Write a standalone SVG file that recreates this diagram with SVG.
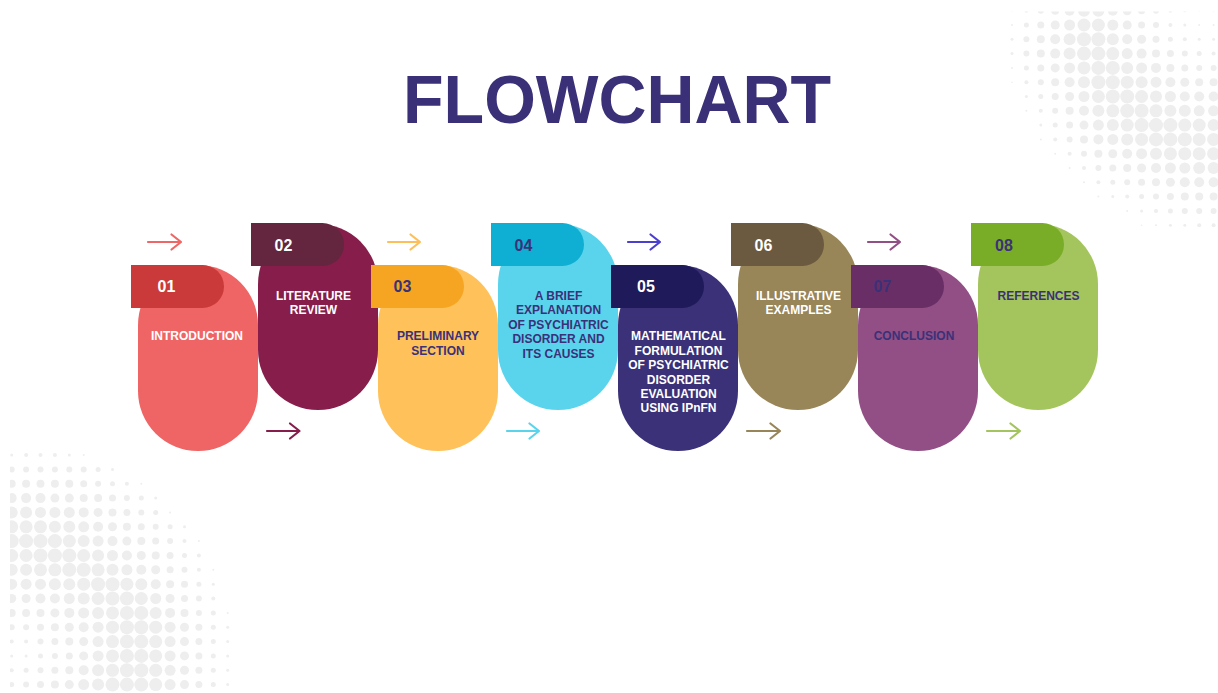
<svg xmlns="http://www.w3.org/2000/svg" width="1218" height="693" viewBox="0 0 1218 693">
  <style>
    .bg { fill: #ffffff; }
    .dots { fill: #eeeeee; }
    .pill { stroke: none; }
    .lbl { font-family: "Liberation Sans", Arial, sans-serif; font-weight: 700; font-size: 12px; text-anchor: middle; }
    .num { font-family: "Liberation Sans", Arial, sans-serif; font-weight: 700; font-size: 16px; text-anchor: middle; }
    .title { font-family: "Liberation Sans", Arial, sans-serif; font-weight: 700; font-size: 68px; text-anchor: middle; fill: #393077; }
    .w { fill: #ffffff; }
    .n { fill: #3a3178; }
    .arrow { fill: none; stroke-width: 2.2; stroke-linecap: round; stroke-linejoin: round; }
  </style>
  <defs>
    <clipPath id="clipTR"><rect x="990" y="11.5" width="228" height="240"/></clipPath>
    <clipPath id="clipBL"><rect x="10" y="440" width="240" height="253"/></clipPath>
  </defs>

  <rect class="bg" x="0" y="0" width="1218" height="693"/>

  <!-- halftone dot field, upper right -->
  <g id="dots-top-right" class="dots" clip-path="url(#clipTR)">
    <g transform="translate(0,10.7)"><circle cx="1012" r="1"/><circle cx="1026.4" r="2"/><circle cx="1040.8" r="3"/><circle cx="1055.2" r="4"/><circle cx="1069.6" r="5"/><circle cx="1084" r="6"/><circle cx="1098.4" r="6"/><circle cx="1112.8" r="5"/><circle cx="1127.2" r="4.5"/><circle cx="1141.6" r="3.5"/><circle cx="1156" r="3"/><circle cx="1170.4" r="2"/><circle cx="1184.8" r="1.5"/><circle cx="1199.2" r="1"/><circle cx="1213.6" r="1"/></g>
    <g transform="translate(0,25)"><circle cx="1012" r="1"/><circle cx="1026.4" r="2.5"/><circle cx="1040.8" r="3.5"/><circle cx="1055.2" r="4.5"/><circle cx="1069.6" r="5.5"/><circle cx="1084" r="6.5"/><circle cx="1098.4" r="6.5"/><circle cx="1112.8" r="5.5"/><circle cx="1127.2" r="4.5"/><circle cx="1141.6" r="3.5"/><circle cx="1156" r="3"/><circle cx="1170.4" r="2"/><circle cx="1184.8" r="1.5"/><circle cx="1199.2" r="1"/><circle cx="1213.6" r="1"/></g>
    <g transform="translate(0,39.3)"><circle cx="1012" r="1.5"/><circle cx="1026.4" r="3"/><circle cx="1040.8" r="4"/><circle cx="1055.2" r="5"/><circle cx="1069.6" r="6"/><circle cx="1084" r="7"/><circle cx="1098.4" r="7"/><circle cx="1112.8" r="6"/><circle cx="1127.2" r="5"/><circle cx="1141.6" r="4.5"/><circle cx="1156" r="3.5"/><circle cx="1170.4" r="2.5"/><circle cx="1184.8" r="2"/><circle cx="1199.2" r="1.5"/><circle cx="1213.6" r="1.5"/></g>
    <g transform="translate(0,53.6)"><circle cx="1012" r="1.5"/><circle cx="1026.4" r="3"/><circle cx="1040.8" r="4"/><circle cx="1055.2" r="5"/><circle cx="1069.6" r="6"/><circle cx="1084" r="7"/><circle cx="1098.4" r="7"/><circle cx="1112.8" r="6.5"/><circle cx="1127.2" r="5.5"/><circle cx="1141.6" r="5"/><circle cx="1156" r="4"/><circle cx="1170.4" r="3.5"/><circle cx="1184.8" r="3"/><circle cx="1199.2" r="2.5"/><circle cx="1213.6" r="2"/></g>
    <g transform="translate(0,67.9)"><circle cx="1012" r="1"/><circle cx="1026.4" r="2.5"/><circle cx="1040.8" r="3.5"/><circle cx="1055.2" r="4.5"/><circle cx="1069.6" r="5.5"/><circle cx="1084" r="6.5"/><circle cx="1098.4" r="7"/><circle cx="1112.8" r="7"/><circle cx="1127.2" r="6"/><circle cx="1141.6" r="5.5"/><circle cx="1156" r="5"/><circle cx="1170.4" r="4"/><circle cx="1184.8" r="3.5"/><circle cx="1199.2" r="3"/><circle cx="1213.6" r="3"/></g>
    <g transform="translate(0,82.2)"><circle cx="1012" r="0.8"/><circle cx="1026.4" r="2"/><circle cx="1040.8" r="3"/><circle cx="1055.2" r="4"/><circle cx="1069.6" r="5"/><circle cx="1084" r="6"/><circle cx="1098.4" r="7"/><circle cx="1112.8" r="7"/><circle cx="1127.2" r="6.5"/><circle cx="1141.6" r="6"/><circle cx="1156" r="5.5"/><circle cx="1170.4" r="5"/><circle cx="1184.8" r="4.5"/><circle cx="1199.2" r="4"/><circle cx="1213.6" r="4"/></g>
    <g transform="translate(0,96.5)"><circle cx="1026.4" r="1.5"/><circle cx="1040.8" r="2.5"/><circle cx="1055.2" r="3.5"/><circle cx="1069.6" r="4.5"/><circle cx="1084" r="5.5"/><circle cx="1098.4" r="6.5"/><circle cx="1112.8" r="7"/><circle cx="1127.2" r="7"/><circle cx="1141.6" r="6.5"/><circle cx="1156" r="6"/><circle cx="1170.4" r="5.5"/><circle cx="1184.8" r="5"/><circle cx="1199.2" r="5"/><circle cx="1213.6" r="5"/></g>
    <g transform="translate(0,110.8)"><circle cx="1026.4" r="1"/><circle cx="1040.8" r="2"/><circle cx="1055.2" r="3"/><circle cx="1069.6" r="4"/><circle cx="1084" r="5"/><circle cx="1098.4" r="6"/><circle cx="1112.8" r="6.5"/><circle cx="1127.2" r="7"/><circle cx="1141.6" r="7"/><circle cx="1156" r="6.5"/><circle cx="1170.4" r="6"/><circle cx="1184.8" r="6"/><circle cx="1199.2" r="5.5"/><circle cx="1213.6" r="5.5"/></g>
    <g transform="translate(0,125.1)"><circle cx="1040.8" r="1.5"/><circle cx="1055.2" r="2.5"/><circle cx="1069.6" r="3.5"/><circle cx="1084" r="4.5"/><circle cx="1098.4" r="5.5"/><circle cx="1112.8" r="6"/><circle cx="1127.2" r="6.5"/><circle cx="1141.6" r="7"/><circle cx="1156" r="7"/><circle cx="1170.4" r="7"/><circle cx="1184.8" r="6.5"/><circle cx="1199.2" r="6.5"/><circle cx="1213.6" r="6"/></g>
    <g transform="translate(0,139.4)"><circle cx="1040.8" r="1"/><circle cx="1055.2" r="2"/><circle cx="1069.6" r="3"/><circle cx="1084" r="4"/><circle cx="1098.4" r="5"/><circle cx="1112.8" r="5.5"/><circle cx="1127.2" r="6"/><circle cx="1141.6" r="6.5"/><circle cx="1156" r="7"/><circle cx="1170.4" r="7"/><circle cx="1184.8" r="7"/><circle cx="1199.2" r="6.5"/><circle cx="1213.6" r="6.5"/></g>
    <g transform="translate(0,153.7)"><circle cx="1055.2" r="1"/><circle cx="1069.6" r="2"/><circle cx="1084" r="3"/><circle cx="1098.4" r="4"/><circle cx="1112.8" r="4.5"/><circle cx="1127.2" r="5"/><circle cx="1141.6" r="5.5"/><circle cx="1156" r="6"/><circle cx="1170.4" r="6.5"/><circle cx="1184.8" r="6.5"/><circle cx="1199.2" r="6.5"/><circle cx="1213.6" r="6.5"/></g>
    <g transform="translate(0,168)"><circle cx="1069.6" r="1"/><circle cx="1084" r="2"/><circle cx="1098.4" r="3"/><circle cx="1112.8" r="3.5"/><circle cx="1127.2" r="4"/><circle cx="1141.6" r="4.5"/><circle cx="1156" r="5"/><circle cx="1170.4" r="5.5"/><circle cx="1184.8" r="5.5"/><circle cx="1199.2" r="6"/><circle cx="1213.6" r="6"/></g>
    <g transform="translate(0,182.3)"><circle cx="1084" r="1"/><circle cx="1098.4" r="2"/><circle cx="1112.8" r="2.5"/><circle cx="1127.2" r="3"/><circle cx="1141.6" r="3.5"/><circle cx="1156" r="4"/><circle cx="1170.4" r="4.5"/><circle cx="1184.8" r="5"/><circle cx="1199.2" r="5"/><circle cx="1213.6" r="5"/></g>
    <g transform="translate(0,196.6)"><circle cx="1098.4" r="1"/><circle cx="1112.8" r="1.5"/><circle cx="1127.2" r="2"/><circle cx="1141.6" r="2.5"/><circle cx="1156" r="3"/><circle cx="1170.4" r="3.5"/><circle cx="1184.8" r="4"/><circle cx="1199.2" r="4"/><circle cx="1213.6" r="4"/></g>
    <g transform="translate(0,210.9)"><circle cx="1127.2" r="1"/><circle cx="1141.6" r="1.5"/><circle cx="1156" r="2"/><circle cx="1170.4" r="2.5"/><circle cx="1184.8" r="3"/><circle cx="1199.2" r="3"/><circle cx="1213.6" r="3"/></g>
    <g transform="translate(0,225.2)"><circle cx="1141.6" r="0.8"/><circle cx="1156" r="1"/><circle cx="1170.4" r="1.5"/><circle cx="1184.8" r="1.5"/><circle cx="1199.2" r="2"/><circle cx="1213.6" r="2"/></g>
  </g>

  <!-- halftone dot field, lower left -->
  <g id="dots-bottom-left" class="dots" clip-path="url(#clipBL)">
    <g transform="translate(0,455)"><circle cx="11.7" r="1.5"/><circle cx="26.1" r="2"/><circle cx="40.5" r="2"/><circle cx="54.9" r="2"/><circle cx="69.3" r="1.5"/><circle cx="83.7" r="1"/></g>
    <g transform="translate(0,469.4)"><circle cx="11.7" r="3"/><circle cx="26.1" r="3"/><circle cx="40.5" r="3"/><circle cx="54.9" r="3"/><circle cx="69.3" r="3"/><circle cx="83.7" r="3"/><circle cx="98.1" r="2.5"/><circle cx="112.5" r="1.5"/></g>
    <g transform="translate(0,483.7)"><circle cx="11.7" r="4"/><circle cx="26.1" r="4"/><circle cx="40.5" r="4"/><circle cx="54.9" r="4"/><circle cx="69.3" r="4"/><circle cx="83.7" r="3.5"/><circle cx="98.1" r="3"/><circle cx="112.5" r="2.5"/><circle cx="126.9" r="2"/><circle cx="141.3" r="1"/></g>
    <g transform="translate(0,498.1)"><circle cx="11.7" r="5"/><circle cx="26.1" r="5"/><circle cx="40.5" r="5"/><circle cx="54.9" r="4.5"/><circle cx="69.3" r="4.5"/><circle cx="83.7" r="4"/><circle cx="98.1" r="4"/><circle cx="112.5" r="3.5"/><circle cx="126.9" r="3"/><circle cx="141.3" r="2.5"/><circle cx="155.7" r="1.5"/></g>
    <g transform="translate(0,512.4)"><circle cx="11.7" r="6"/><circle cx="26.1" r="6"/><circle cx="40.5" r="5.5"/><circle cx="54.9" r="5.5"/><circle cx="69.3" r="5.5"/><circle cx="83.7" r="5"/><circle cx="98.1" r="4.5"/><circle cx="112.5" r="4"/><circle cx="126.9" r="3.5"/><circle cx="141.3" r="3"/><circle cx="155.7" r="2.5"/><circle cx="170.1" r="1"/></g>
    <g transform="translate(0,526.8)"><circle cx="11.7" r="6.5"/><circle cx="26.1" r="6.5"/><circle cx="40.5" r="6.5"/><circle cx="54.9" r="6"/><circle cx="69.3" r="6"/><circle cx="83.7" r="5.5"/><circle cx="98.1" r="5"/><circle cx="112.5" r="4.5"/><circle cx="126.9" r="4"/><circle cx="141.3" r="3.5"/><circle cx="155.7" r="3"/><circle cx="170.1" r="2.5"/><circle cx="184.5" r="1.5"/></g>
    <g transform="translate(0,541.1)"><circle cx="11.7" r="7"/><circle cx="26.1" r="7"/><circle cx="40.5" r="7"/><circle cx="54.9" r="7"/><circle cx="69.3" r="6.5"/><circle cx="83.7" r="6"/><circle cx="98.1" r="5.5"/><circle cx="112.5" r="5"/><circle cx="126.9" r="4.5"/><circle cx="141.3" r="4"/><circle cx="155.7" r="3.5"/><circle cx="170.1" r="3"/><circle cx="184.5" r="2"/><circle cx="198.9" r="1"/></g>
    <g transform="translate(0,555.5)"><circle cx="11.7" r="6.5"/><circle cx="26.1" r="6.5"/><circle cx="40.5" r="7"/><circle cx="54.9" r="7"/><circle cx="69.3" r="7"/><circle cx="83.7" r="6.5"/><circle cx="98.1" r="6"/><circle cx="112.5" r="5.5"/><circle cx="126.9" r="5"/><circle cx="141.3" r="4.5"/><circle cx="155.7" r="4"/><circle cx="170.1" r="3.5"/><circle cx="184.5" r="2.5"/><circle cx="198.9" r="2"/></g>
    <g transform="translate(0,569.8)"><circle cx="11.7" r="6"/><circle cx="26.1" r="6"/><circle cx="40.5" r="6.5"/><circle cx="54.9" r="6.5"/><circle cx="69.3" r="7"/><circle cx="83.7" r="7"/><circle cx="98.1" r="6.5"/><circle cx="112.5" r="6"/><circle cx="126.9" r="5.5"/><circle cx="141.3" r="5"/><circle cx="155.7" r="4.5"/><circle cx="170.1" r="3.5"/><circle cx="184.5" r="3"/><circle cx="198.9" r="2"/><circle cx="213.3" r="1"/></g>
    <g transform="translate(0,584.2)"><circle cx="11.7" r="5.5"/><circle cx="26.1" r="5.5"/><circle cx="40.5" r="5.5"/><circle cx="54.9" r="6"/><circle cx="69.3" r="6"/><circle cx="83.7" r="6.5"/><circle cx="98.1" r="7"/><circle cx="112.5" r="7"/><circle cx="126.9" r="6.5"/><circle cx="141.3" r="6"/><circle cx="155.7" r="5"/><circle cx="170.1" r="4"/><circle cx="184.5" r="3.5"/><circle cx="198.9" r="2.5"/><circle cx="213.3" r="1.5"/></g>
    <g transform="translate(0,598.5)"><circle cx="11.7" r="4.5"/><circle cx="26.1" r="4.5"/><circle cx="40.5" r="5"/><circle cx="54.9" r="5"/><circle cx="69.3" r="5.5"/><circle cx="83.7" r="6"/><circle cx="98.1" r="6.5"/><circle cx="112.5" r="7"/><circle cx="126.9" r="7"/><circle cx="141.3" r="6.5"/><circle cx="155.7" r="5.5"/><circle cx="170.1" r="4.5"/><circle cx="184.5" r="3.5"/><circle cx="198.9" r="3"/><circle cx="213.3" r="2"/></g>
    <g transform="translate(0,612.9)"><circle cx="11.7" r="4"/><circle cx="26.1" r="4"/><circle cx="40.5" r="4"/><circle cx="54.9" r="4.5"/><circle cx="69.3" r="5"/><circle cx="83.7" r="5.5"/><circle cx="98.1" r="6"/><circle cx="112.5" r="6.5"/><circle cx="126.9" r="7"/><circle cx="141.3" r="7"/><circle cx="155.7" r="6"/><circle cx="170.1" r="5"/><circle cx="184.5" r="4"/><circle cx="198.9" r="3"/><circle cx="213.3" r="2.5"/><circle cx="227.7" r="1"/></g>
    <g transform="translate(0,627.2)"><circle cx="11.7" r="3"/><circle cx="26.1" r="3"/><circle cx="40.5" r="3.5"/><circle cx="54.9" r="4"/><circle cx="69.3" r="4.5"/><circle cx="83.7" r="5"/><circle cx="98.1" r="5.5"/><circle cx="112.5" r="6.5"/><circle cx="126.9" r="7"/><circle cx="141.3" r="7"/><circle cx="155.7" r="6.5"/><circle cx="170.1" r="5.5"/><circle cx="184.5" r="4.5"/><circle cx="198.9" r="3.5"/><circle cx="213.3" r="2.5"/><circle cx="227.7" r="1.5"/></g>
    <g transform="translate(0,641.6)"><circle cx="11.7" r="2"/><circle cx="26.1" r="2"/><circle cx="40.5" r="3"/><circle cx="54.9" r="3.5"/><circle cx="69.3" r="4"/><circle cx="83.7" r="4.5"/><circle cx="98.1" r="5.5"/><circle cx="112.5" r="6.5"/><circle cx="126.9" r="7"/><circle cx="141.3" r="7"/><circle cx="155.7" r="6.5"/><circle cx="170.1" r="5.5"/><circle cx="184.5" r="4.5"/><circle cx="198.9" r="3.5"/><circle cx="213.3" r="2.5"/><circle cx="227.7" r="1.5"/></g>
    <g transform="translate(0,655.9)"><circle cx="11.7" r="1.5"/><circle cx="26.1" r="1.5"/><circle cx="40.5" r="2.5"/><circle cx="54.9" r="3"/><circle cx="69.3" r="3.5"/><circle cx="83.7" r="4.5"/><circle cx="98.1" r="5.5"/><circle cx="112.5" r="6.5"/><circle cx="126.9" r="7"/><circle cx="141.3" r="7"/><circle cx="155.7" r="6.5"/><circle cx="170.1" r="5.5"/><circle cx="184.5" r="4.5"/><circle cx="198.9" r="3.5"/><circle cx="213.3" r="2.5"/><circle cx="227.7" r="1.5"/></g>
    <g transform="translate(0,670.3)"><circle cx="11.7" r="2"/><circle cx="26.1" r="2.5"/><circle cx="40.5" r="3"/><circle cx="54.9" r="3.5"/><circle cx="69.3" r="4"/><circle cx="83.7" r="5"/><circle cx="98.1" r="6"/><circle cx="112.5" r="6.5"/><circle cx="126.9" r="7"/><circle cx="141.3" r="7"/><circle cx="155.7" r="6.5"/><circle cx="170.1" r="5.5"/><circle cx="184.5" r="4.5"/><circle cx="198.9" r="3.5"/><circle cx="213.3" r="2.5"/><circle cx="227.7" r="1.5"/></g>
    <g transform="translate(0,684.6)"><circle cx="11.7" r="2.5"/><circle cx="26.1" r="3"/><circle cx="40.5" r="3.5"/><circle cx="54.9" r="4"/><circle cx="69.3" r="4.5"/><circle cx="83.7" r="5.5"/><circle cx="98.1" r="6"/><circle cx="112.5" r="7"/><circle cx="126.9" r="7"/><circle cx="141.3" r="7"/><circle cx="155.7" r="6.5"/><circle cx="170.1" r="5.5"/><circle cx="184.5" r="4.5"/><circle cx="198.9" r="3.5"/><circle cx="213.3" r="2.5"/><circle cx="227.7" r="1.5"/></g>
  </g>

  <text id="title" class="title" x="617" y="122.7" textLength="428" lengthAdjust="spacingAndGlyphs">FLOWCHART</text>

  <!-- arrows between the steps -->
  <g id="connectors">
    <path class="arrow" stroke="#ee6666" d="M148 242 H181 M171.5 234.5 L181 242 L171.5 249.5"/>
    <path class="arrow" stroke="#fdbf5a" d="M388 242 H420 M410.5 234.5 L420 242 L410.5 249.5"/>
    <path class="arrow" stroke="#4b3fcf" d="M628 242 H660 M650.5 234.5 L660 242 L650.5 249.5"/>
    <path class="arrow" stroke="#914f86" d="M868 242 H900 M890.5 234.5 L900 242 L890.5 249.5"/>
    <path class="arrow" stroke="#861d4b" d="M267 431 H299.5 M290 423.5 L299.5 431 L290 438.5"/>
    <path class="arrow" stroke="#5ad4ec" d="M507 431 H539 M529.5 423.5 L539 431 L529.5 438.5"/>
    <path class="arrow" stroke="#988558" d="M747 431 H780 M770.5 423.5 L780 431 L770.5 438.5"/>
    <path class="arrow" stroke="#a4c55d" d="M987 431 H1020 M1010.5 423.5 L1020 431 L1010.5 438.5"/>
  </g>

  <g id="node-01">
    <rect class="pill" x="138" y="265" width="120" height="186" rx="60" fill="#ef6464"/>
    <path d="M131 265 H202.5 A21.5 21.5 0 0 1 202.5 308 H131 Z" fill="#cb3a3a"/>
    <text class="num w" x="166.5" y="291.7">01</text>
    <text class="lbl w" x="197" y="340.3">INTRODUCTION</text>
  </g>

  <g id="node-02">
    <rect class="pill" x="258" y="224" width="120" height="186" rx="60" fill="#861d4b"/>
    <path d="M251 223 H322.5 A21.5 21.5 0 0 1 322.5 266 H251 Z" fill="#63263e"/>
    <text class="num w" x="283.5" y="251">02</text>
    <text class="lbl w" x="313.5" y="300"><tspan x="313.5">LITERATURE</tspan><tspan x="313.5" dy="14.4">REVIEW</tspan></text>
  </g>

  <g id="node-03">
    <rect class="pill" x="378" y="265" width="120" height="186" rx="60" fill="#ffc15a"/>
    <path d="M371 265 H442.5 A21.5 21.5 0 0 1 442.5 308 H371 Z" fill="#f5a521"/>
    <text class="num n" x="402.5" y="291.7">03</text>
    <text class="lbl n" x="438" y="340.3"><tspan x="438">PRELIMINARY</tspan><tspan x="438" dy="14.4">SECTION</tspan></text>
  </g>

  <g id="node-04">
    <rect class="pill" x="498" y="224" width="120" height="186" rx="60" fill="#5ad4ec"/>
    <path d="M491 223 H562.5 A21.5 21.5 0 0 1 562.5 266 H491 Z" fill="#0fafd3"/>
    <text class="num n" x="523.5" y="251">04</text>
    <text class="lbl n" x="558.5" y="300"><tspan x="558.5">A BRIEF</tspan><tspan x="558.5" dy="14.4">EXPLANATION</tspan><tspan x="558.5" dy="14.4">OF PSYCHIATRIC</tspan><tspan x="558.5" dy="14.4">DISORDER AND</tspan><tspan x="558.5" dy="14.4">ITS CAUSES</tspan></text>
  </g>

  <g id="node-05">
    <rect class="pill" x="618" y="265" width="120" height="186" rx="60" fill="#3a3178"/>
    <path d="M611 265 H682.5 A21.5 21.5 0 0 1 682.5 308 H611 Z" fill="#1f1a59"/>
    <text class="num w" x="646" y="291.7">05</text>
    <text class="lbl w" x="678.5" y="340.3"><tspan x="678.5">MATHEMATICAL</tspan><tspan x="678.5" dy="14.4">FORMULATION</tspan><tspan x="678.5" dy="14.4">OF PSYCHIATRIC</tspan><tspan x="678.5" dy="14.4">DISORDER</tspan><tspan x="678.5" dy="14.4">EVALUATION</tspan><tspan x="678.5" dy="14.4">USING IPnFN</tspan></text>
  </g>

  <g id="node-06">
    <rect class="pill" x="738" y="224" width="120" height="186" rx="60" fill="#988558"/>
    <path d="M731 223 H802.5 A21.5 21.5 0 0 1 802.5 266 H731 Z" fill="#6b5940"/>
    <text class="num w" x="763.5" y="251">06</text>
    <text class="lbl w" x="798.5" y="300"><tspan x="798.5">ILLUSTRATIVE</tspan><tspan x="798.5" dy="14.4">EXAMPLES</tspan></text>
  </g>

  <g id="node-07">
    <rect class="pill" x="858" y="265" width="120" height="186" rx="60" fill="#914f86"/>
    <path d="M851 265 H922.5 A21.5 21.5 0 0 1 922.5 308 H851 Z" fill="#6a2e67"/>
    <text class="num n" x="882.5" y="291.7">07</text>
    <text class="lbl n" x="914" y="340.3">CONCLUSION</text>
  </g>

  <g id="node-08">
    <rect class="pill" x="978" y="224" width="120" height="186" rx="60" fill="#a4c55d"/>
    <path d="M971 223 H1042.5 A21.5 21.5 0 0 1 1042.5 266 H971 Z" fill="#7aad27"/>
    <text class="num n" x="1004" y="251">08</text>
    <text class="lbl n" x="1038.5" y="300">REFERENCES</text>
  </g>
</svg>
